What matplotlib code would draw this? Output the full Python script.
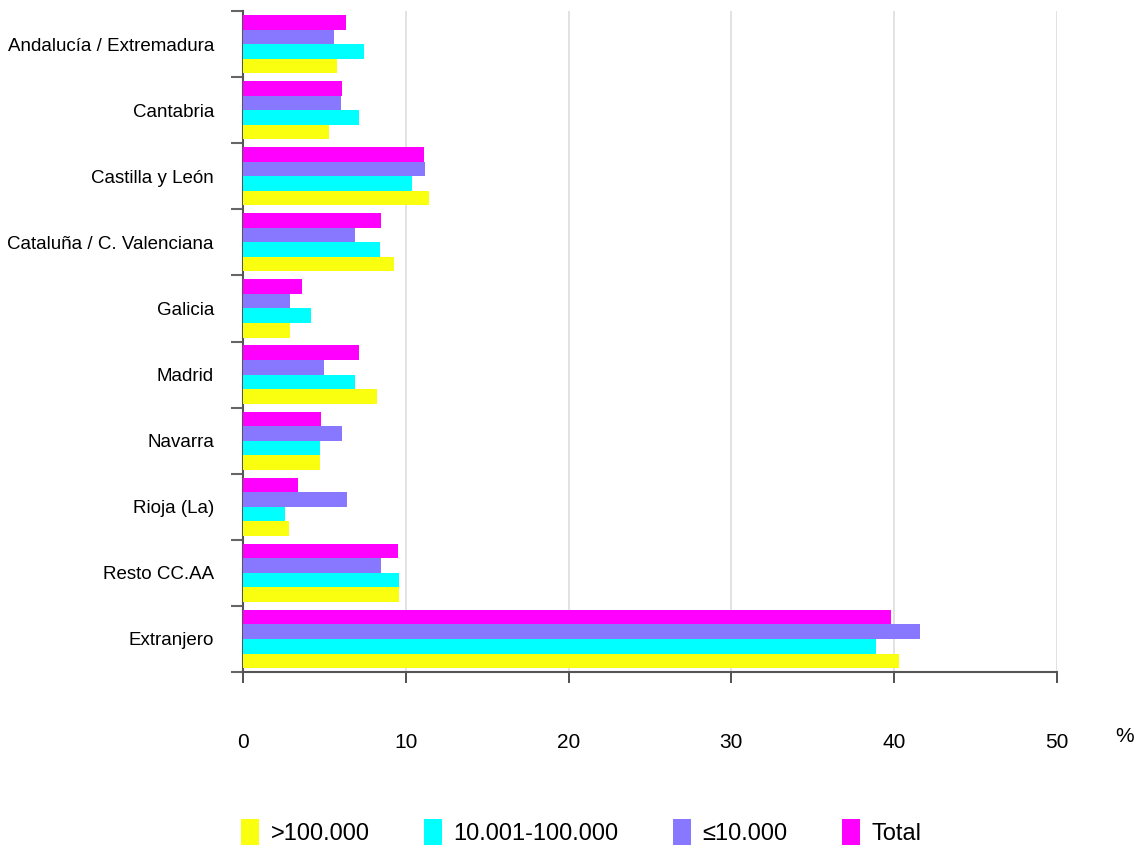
import matplotlib
matplotlib.use("Agg")
import matplotlib.pyplot as plt
import numpy as np

plt.rcParams["font.family"] = ["Liberation Sans", "DejaVu Sans"]

# Data (percentages)
regions = [
    "Andalucía / Extremadura",
    "Cantabria",
    "Castilla y León",
    "Cataluña / C. Valenciana",
    "Galicia",
    "Madrid",
    "Navarra",
    "Rioja (La)",
    "Resto CC.AA",
    "Extranjero",
]
series_names = [">100.000", "10.001-100.000", "≤10.000", "Total"]
mas_100000 = [5.8, 5.3, 11.4, 9.3, 2.9, 8.2, 4.7, 2.8, 9.6, 40.3]
de_10001_a_100000 = [7.4, 7.1, 10.4, 8.4, 4.2, 6.9, 4.7, 2.6, 9.6, 38.9]
hasta_10000 = [5.6, 6.0, 11.2, 6.9, 2.9, 5.0, 6.1, 6.4, 8.5, 41.6]
total = [6.3, 6.1, 11.1, 8.5, 3.6, 7.1, 4.8, 3.4, 9.5, 39.8]

values = [mas_100000, de_10001_a_100000, hasta_10000, total]
colors = ["#FAFF0F", "#00FFFF", "#8877FF", "#FF00FF"]
offsets = [0.33, 0.11, -0.11, -0.33]

fig = plt.figure(figsize=(11.4, 8.48), dpi=100)
ax = fig.add_axes([0.2132, 0.2075, 0.714, 0.7795])

y = np.arange(len(regions))
for vals, col, off, name in zip(values, colors, offsets, series_names):
    ax.barh(y + off, vals, height=0.22, color=col, label=name, zorder=3)

ax.set_xlim(0, 50)
ax.set_ylim(len(regions) - 0.5, -0.5)

# category boundaries as ticks, names as minor ticks at centers
ax.set_yticks(np.arange(len(regions) + 1) - 0.5)
ax.set_yticklabels([])
ax.set_yticks(y, minor=True)
ax.set_yticklabels(regions, minor=True, fontsize=13.5)
ax.tick_params(axis="y", which="major", length=9, width=1.5, color="#666666", direction="out")
ax.tick_params(axis="y", which="minor", length=0, pad=21)

ax.set_xticks([0, 10, 20, 30, 40, 50])
ax.tick_params(axis="x", length=8, width=1.2, color="#333333", pad=36, labelsize=15)

ax.grid(axis="x", color="#dddddd", linewidth=1.2, zorder=0)
for side in ["top", "right"]:
    ax.spines[side].set_visible(False)
ax.spines["left"].set_color("#555555")
ax.spines["left"].set_linewidth(1.5)
ax.spines["bottom"].set_color("#555555")
ax.spines["bottom"].set_linewidth(1.5)

fig.text(1125 / 1140, 1 - 737 / 848, "%", fontsize=15, ha="center", va="center")

fig.legend(loc="center", bbox_to_anchor=(0.51, 0.019), ncol=4, frameon=False,
           fontsize=17, handlelength=0.75, handleheight=1.3, handletextpad=0.5,
           columnspacing=2.3)

fig.savefig("out.png", dpi=100)
